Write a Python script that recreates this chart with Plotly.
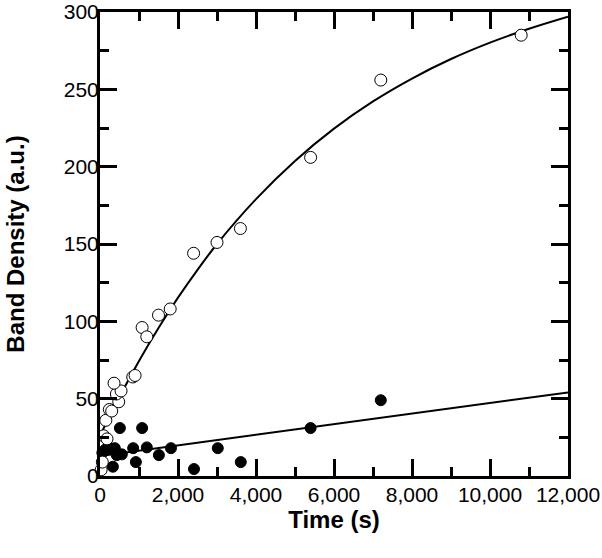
import plotly.graph_objects as go

# Open circles (total band density)
open_t = [30, 60, 90, 180, 150, 240, 300, 480, 420, 540, 360, 840, 900, 1080, 1200, 1500, 1800, 2400, 3000, 3600, 5400, 7200, 10800]
open_y = [4, 9, 26, 24, 36, 43, 42, 48, 53, 55, 60, 64, 65, 96, 90, 104, 108, 144, 151, 160, 206, 256, 285]

# Filled circles
fill_t = [60, 130, 250, 380, 430, 560, 330, 510, 1080, 850, 920, 1200, 1510, 1820, 2410, 3020, 3610, 5400, 7200]
fill_y = [15, 17, 18, 18, 13.5, 14, 6, 31, 31, 18, 9, 18.5, 13.5, 18, 4.5, 18, 9, 31, 49]

# Fit curve (open circles)
fit_open_t = [0, 500, 1000, 1500, 2000, 2500, 3000, 4000, 5000, 6000, 7000, 8000, 9000, 10000, 11000, 12000]
fit_open_y = [26, 51.2, 74.4, 95.7, 115.3, 133.3, 150, 179, 203.7, 224.6, 242.2, 257, 269.6, 280.2, 289.2, 297]

# Fit line (filled circles)
fit_fill_t = [0, 12000]
fit_fill_y = [13, 54]

fig = go.Figure()
fig.add_trace(go.Scatter(x=fit_open_t, y=fit_open_y, mode="lines", line=dict(color="black", width=2, shape="spline", smoothing=1.0), showlegend=False))
fig.add_trace(go.Scatter(x=fit_fill_t, y=fit_fill_y, mode="lines", line=dict(color="black", width=2), showlegend=False))
fig.add_trace(go.Scatter(x=fill_t, y=fill_y, mode="markers", marker=dict(size=11, color="black", line=dict(color="black", width=1)), showlegend=False, cliponaxis=False))
fig.add_trace(go.Scatter(x=open_t, y=open_y, mode="markers", marker=dict(size=12, color="white", line=dict(color="black", width=1)), showlegend=False, cliponaxis=False))

font = "Liberation Sans, Arial, Helvetica, sans-serif"
axis_common = dict(
    showline=True, linecolor="black", linewidth=3, mirror="ticks",
    ticks="inside", ticklen=17, tickwidth=2.5, tickcolor="black",
    showgrid=False, zeroline=False, automargin=False, ticklabeloverflow="allow",
    tickfont=dict(family=font, size=21, color="black"),
)
fig.update_xaxes(
    range=[0, 12000], tick0=0, dtick=2000, tickformat=",d",
    minor=dict(ticks="inside", ticklen=9, tickwidth=2.5, tickcolor="black", dtick=1000, showgrid=False),
    ticklabelstandoff=-2,
    title=dict(text="<b>Time (s)</b>", font=dict(family=font, size=24, color="black"), standoff=0),
    **axis_common,
)
fig.update_yaxes(
    range=[0, 300], tick0=0, dtick=50,
    minor=dict(ticks="inside", ticklen=9, tickwidth=2.5, tickcolor="black", dtick=25, showgrid=False),
    ticklabelstandoff=-6,
    title=dict(text="<b>Band Density (a.u.)</b>", font=dict(family=font, size=24, color="black"), standoff=33),
    **axis_common,
)
fig.update_layout(
    width=602, height=558,
    margin=dict(l=100, r=34, t=12, b=82),
    plot_bgcolor="white", paper_bgcolor="white",
    font=dict(family=font, color="black"),
)
fig.write_html("out.html", config={"displayModeBar": False}, post_script="document.body.style.margin='0';")
